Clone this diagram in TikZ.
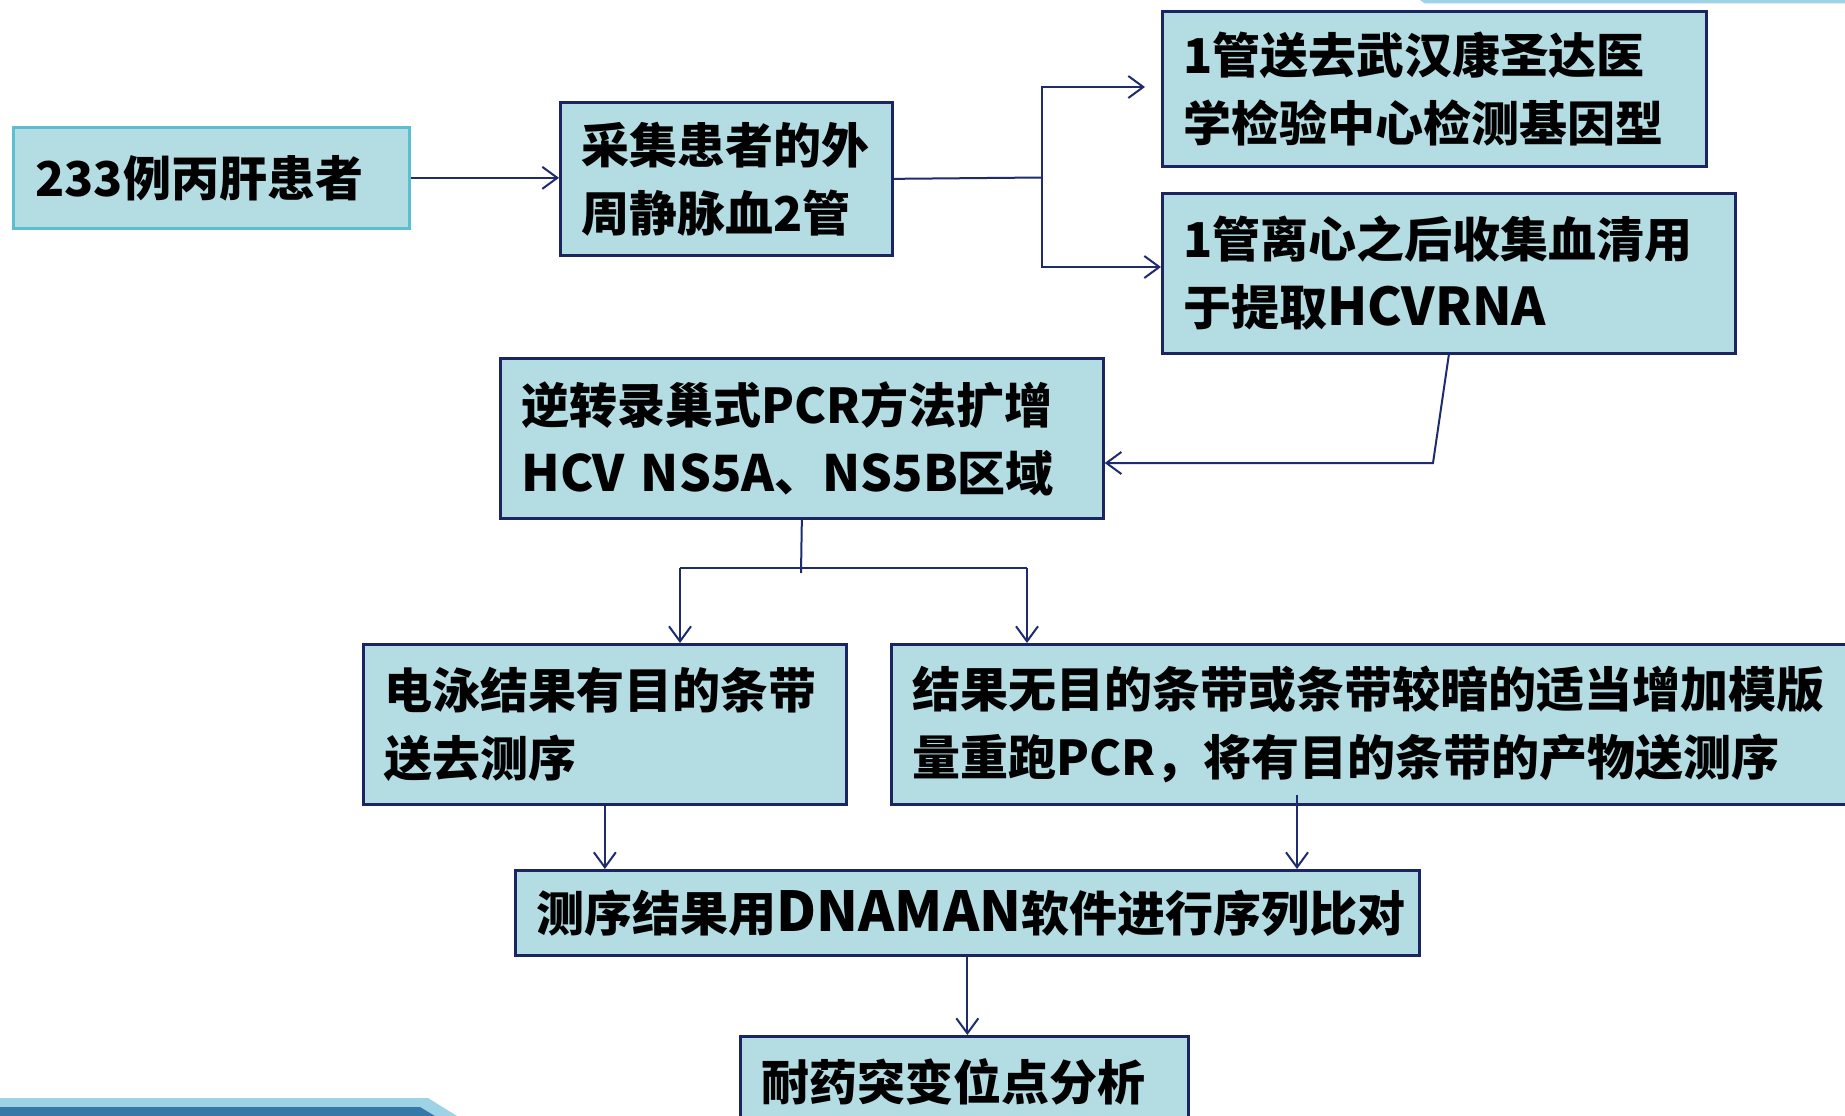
\documentclass[tikz,border=0pt]{standalone}
\usepackage{fontspec}
\newfontfamily\cjk{Noto Sans CJK SC}
\newcommand{\latw}[1]{{\fontsize{52}{68}\selectfont #1}}
\newcommand{\latn}[1]{{\fontsize{50}{68}\selectfont #1}}
\newcommand{\latww}[1]{{\fontsize{55}{68}\selectfont #1}}
\usetikzlibrary{arrows.meta}
\definecolor{boxfill}{HTML}{B4DCE3}
\definecolor{navy}{HTML}{1A2562}
\definecolor{connc}{HTML}{1E2B6E}
\definecolor{tealb}{HTML}{5CBFCF}
\definecolor{barlight}{HTML}{9DD3E4}
\definecolor{bardark}{HTML}{3479A7}
\begin{document}
\begin{tikzpicture}[x=1pt,y=-1pt,
  box/.style={draw=navy, fill=boxfill, line width=2.7pt, anchor=north west, align=left,
    inner xsep=21pt, inner ysep=0pt, font=\cjk\bfseries\fontsize{48}{68}\selectfont},
  conn/.style={draw=connc, line width=2pt},
  arr/.style={conn, -{Straight Barb[length=15pt,width=22pt]}}]
\clip (0,0) rectangle (1845,1116);
\fill[white] (0,0) rectangle (1845,1116);
% decorations
\fill[barlight] (1420,0) -- (1845,0) -- (1845,3.5) -- (1425,3.5) -- cycle;
\fill[barlight] (0,1098) -- (428,1098) -- (457,1116) -- (0,1116) -- cycle;
\fill[bardark] (0,1107) -- (420,1107) -- (435,1116) -- (0,1116) -- cycle;
% boxes
\node[box, draw=tealb, inner xsep=22pt, text width=352pt, minimum height=101pt] (b1) at (12,126) {233例丙肝患者};
\node[box, text width=290pt, minimum height=153pt] (b2) at (559,101) {采集患者的外\\周静脉血2管};
\node[box, text width=502pt, minimum height=155pt] (b3) at (1161,10) {1管送去武汉康圣达医\\学检验中心检测基因型};
\node[box, text width=531pt, minimum height=160pt] (b4) at (1161,192) {1管离心之后收集血清用\\于提取\latw{HCVRNA}};
\node[box, text width=561pt, minimum height=160pt] (b5) at (499,357) {逆转录巢式PCR方法扩增\\\latn{HCV NS5A}、\latn{NS5B}区域};
\node[box, text width=441pt, minimum height=160pt] (b6) at (362,643) {电泳结果有目的条带\\送去测序};
\node[box, text width=928pt, minimum height=160pt] (b7) at (890,643) {结果无目的条带或条带较暗的适当增加模版\\量重跑PCR，将有目的条带的产物送测序};
\node[box, text width=862pt, minimum height=85pt] (b8) at (514,869) {测序结果用\latww{DNAMAN}软件进行序列比对};
\node[box, text width=406pt, minimum height=92pt] (b9) at (739,1035) {耐药突变位点分析};
% connectors
\coordinate (s) at (1042,177.5);
\coordinate (t3) at (1145,87);
\coordinate (t4) at (1161,267);
\coordinate (k) at (1433,463);
\coordinate (j) at (801,573);
\coordinate (hl) at (680,568);
\coordinate (hr) at (1027,568);
\coordinate (m) at (1297,795);
\draw[arr] (b1.east) -- (b1.east -| b2.west);
\draw[conn] (b2.east) -- (s);
\draw[arr] (s) |- (t3);
\draw[arr] (s) |- (t4);
\draw[arr] (b4.south) -- (k) -- (b5.east |- k);
\draw[conn] (b5.south) -- (j);
\draw[conn] (hl) -- (hr);
\draw[arr] (hl) -- (hl |- b6.north);
\draw[arr] (hr) -- (hr |- b7.north);
\draw[arr] (b6.south) -- (b6.south |- b8.north);
\draw[arr] (m) -- (m |- b8.north);
\draw[arr] (b8.south) -- (b8.south |- b9.north);
\end{tikzpicture}
\end{document}
